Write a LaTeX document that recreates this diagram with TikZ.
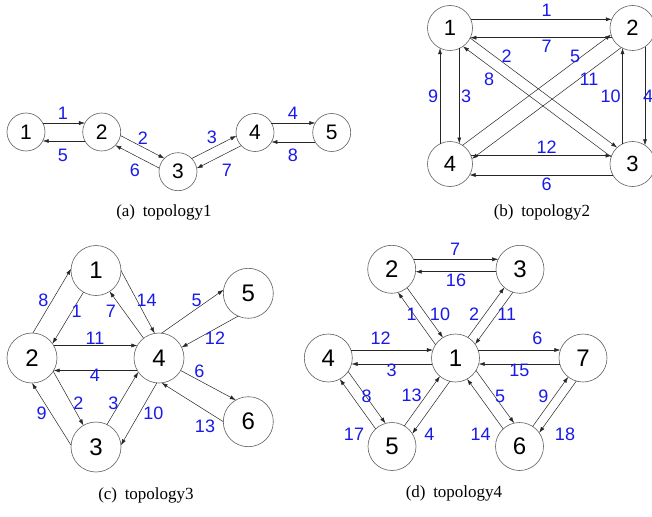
\documentclass[tikz,border=0pt]{standalone}
\usepackage{fontspec}
\setmainfont{Liberation Serif}
\setsansfont{Liberation Sans}
\usetikzlibrary{arrows.meta,calc}
\definecolor{lblue}{RGB}{25,25,235}
\definecolor{ring}{RGB}{95,95,95}
\newcommand\tplink[4]{% from, to, left offset, radius
  \draw[conn, shorten <={sqrt((#4)*(#4)-(#3)*(#3))}, shorten >={sqrt((#4)*(#4)-(#3)*(#3))}]
    ($(#1)!#3pt!90:(#2)$) -- ($(#2)!#3pt!-90:(#1)$);}
\tikzset{
  vtx/.style 2 args={circle, draw=ring, line width=0.6pt, inner sep=0pt, outer sep=0pt,
    minimum size=#1pt, font=\sffamily\fontsize{#2}{#2}\selectfont},
  conn/.style={draw=black!85, line width=0.5pt, -{Latex[length=6pt,width=4pt]}},
  elab/.style={text=lblue, inner sep=0pt, font=\sffamily\fontsize{18}{18}\selectfont},
  captext/.style={inner sep=0pt, font=\fontsize{17}{20}\selectfont}
}
\begin{document}
\begin{tikzpicture}[x=1pt,y=-1pt]
\fill[white] (0,0) rectangle (652,516);
\useasboundingbox (0,0) rectangle (652,516);

% ---------- (a) ----------
\node[vtx={38}{21}] (a1) at (26,132) {1};
\node[vtx={38}{21}] (a2) at (101.7,132) {2};
\node[vtx={38}{21}] (a3) at (178,171.7) {3};
\node[vtx={38}{21}] (a4) at (255,132.5) {4};
\node[vtx={38}{21}] (a5) at (331.7,132.5) {5};
\tplink{a1}{a2}{9}{19}
\tplink{a2}{a1}{9}{19}
\tplink{a2}{a3}{5.5}{19}
\tplink{a3}{a2}{5.5}{19}
\tplink{a3}{a4}{5.5}{19}
\tplink{a4}{a3}{5.5}{19}
\tplink{a4}{a5}{9.5}{19}
\tplink{a5}{a4}{9.5}{19}
\node[elab] (la1) at (63,113) {1};
\node[elab] (la5) at (63,155) {5};
\node[elab] (la2) at (143,138) {2};
\node[elab] (la6) at (135,170) {6};
\node[elab] (la3) at (212,137) {3};
\node[elab] (la7) at (227,170) {7};
\node[elab] (la4) at (293,113) {4};
\node[elab] (la8) at (293,155) {8};
\node[captext] (capa) at (164,212) {(a)\hspace{0.45em}topology1};

% ---------- (b) ----------
\node[vtx={45}{22}] (b1) at (450,28) {1};
\node[vtx={45}{22}] (b2) at (632.5,28) {2};
\node[vtx={45}{22}] (b3) at (632.5,164) {3};
\node[vtx={45}{22}] (b4) at (450,164) {4};
\tplink{b1}{b2}{8.7}{22.5}
\tplink{b2}{b1}{9.7}{22.5}
\tplink{b1}{b4}{9.3}{22.5}
\tplink{b4}{b1}{10}{22.5}
\tplink{b2}{b3}{12.5}{22.5}
\tplink{b3}{b2}{10}{22.5}
\tplink{b4}{b3}{8.3}{22.5}
\tplink{b3}{b4}{11}{22.5}
\tplink{b1}{b3}{4}{22.5}
\tplink{b3}{b1}{7}{22.5}
\tplink{b4}{b2}{7.5}{22.5}
\tplink{b2}{b4}{9}{22.5}
\node[elab] (lb1) at (546.7,10) {1};
\node[elab] (lb7) at (546.7,46.7) {7};
\node[elab] (lb2) at (506.7,56.7) {2};
\node[elab] (lb5) at (575,56.7) {5};
\node[elab] (lb8) at (489,79) {8};
\node[elab] (lb11) at (589,79) {11};
\node[elab] (lb9) at (433,96.7) {9};
\node[elab] (lb3) at (466,96.7) {3};
\node[elab] (lb10) at (610.7,96.7) {10};
\node[elab] (lb4) at (648,96.7) {4};
\node[elab] (lb12) at (546.7,147) {12};
\node[elab] (lb6) at (546.7,184) {6};
\node[captext] (capb) at (542,212) {(b)\hspace{0.45em}topology2};

% ---------- (c) ----------
\node[vtx={50}{24}] (c1) at (96,270.5) {1};
\node[vtx={50}{24}] (c2) at (32,358) {2};
\node[vtx={50}{24}] (c3) at (96,447) {3};
\node[vtx={50}{24}] (c4) at (159,358) {4};
\node[vtx={50}{24}] (c5) at (248.3,293.3) {5};
\node[vtx={50}{24}] (c6) at (248.3,421.7) {6};
\draw[conn] (c2.88) -- (c1.176);
\draw[conn] (c1.240) -- (c2.35);
\draw[conn] (c4.128) -- (c1.303);
\draw[conn] (c1.0) -- (c4.100);
\draw[conn] (c2.30) -- (c4.150);
\draw[conn] (c4.210) -- (c2.330);
\draw[conn] (c4.84) -- (c5.172);
\draw[conn] (c5.246) -- (c4.25);
\draw[conn] (c4.330) -- (c6.120);
\draw[conn] (c6.180) -- (c4.276);
\draw[conn] (c2.328) -- (c3.120);
\draw[conn] (c3.176) -- (c2.270);
\draw[conn] (c3.64) -- (c4.214);
\draw[conn] (c4.265) -- (c3.4);
\node[elab] (lc8) at (43.3,300) {8};
\node[elab] (lc1) at (76.7,311.7) {1};
\node[elab] (lc7) at (111,311.7) {7};
\node[elab] (lc14) at (146.7,300) {14};
\node[elab] (lc5) at (196.7,300) {5};
\node[elab] (lc12) at (215,338.3) {12};
\node[elab] (lc11) at (95,338.3) {11};
\node[elab] (lc4) at (95,375) {4};
\node[elab] (lc6) at (199.3,371.7) {6};
\node[elab] (lc2) at (78.3,403.3) {2};
\node[elab] (lc3) at (113.3,403.3) {3};
\node[elab] (lc9) at (41.7,413.3) {9};
\node[elab] (lc10) at (153.3,413.3) {10};
\node[elab] (lc13) at (205,426.7) {13};
\node[captext] (capc) at (146,495) {(c)\hspace{0.45em}topology3};

% ---------- (d) ----------
\node[vtx={48}{24}] (d2) at (391.7,269.3) {2};
\node[vtx={48}{24}] (d3) at (520,269.3) {3};
\node[vtx={48}{24}] (d4) at (328.3,358) {4};
\node[vtx={48}{24}] (d1) at (455.5,358) {1};
\node[vtx={48}{24}] (d7) at (583,358) {7};
\node[vtx={48}{24}] (d5) at (392,446.5) {5};
\node[vtx={48}{24}] (d6) at (519.5,446.5) {6};
\tplink{d2}{d3}{10}{24}
\tplink{d3}{d2}{2.4}{24}
\tplink{d4}{d1}{8}{24}
\tplink{d1}{d4}{6}{24}
\tplink{d1}{d7}{8}{24}
\tplink{d7}{d1}{6}{24}
\tplink{d1}{d2}{8.4}{24}
\tplink{d2}{d1}{1.7}{24}
\tplink{d1}{d3}{2}{24}
\tplink{d3}{d1}{7.8}{24}
\tplink{d4}{d5}{8.2}{24}
\tplink{d5}{d4}{3}{24}
\tplink{d5}{d1}{2}{24}
\tplink{d1}{d5}{9}{24}
\tplink{d1}{d6}{9.3}{24}
\tplink{d6}{d1}{2.9}{24}
\tplink{d6}{d7}{1}{24}
\tplink{d7}{d6}{8}{24}
\node[elab] (ld7) at (455,249.3) {7};
\node[elab] (ld16) at (456,280.7) {16};
\node[elab] (ld1) at (411.7,314) {1};
\node[elab] (ld10) at (440,314) {10};
\node[elab] (ld2) at (474,314) {2};
\node[elab] (ld11) at (506.7,314) {11};
\node[elab] (ld12) at (380.7,338.3) {12};
\node[elab] (ld3) at (391.7,370) {3};
\node[elab] (ld6) at (537.3,338.3) {6};
\node[elab] (ld15) at (519.3,370) {15};
\node[elab] (ld8) at (366.7,396) {8};
\node[elab] (ld13) at (411.7,395) {13};
\node[elab] (ld5) at (500,396) {5};
\node[elab] (ld9) at (543.3,396) {9};
\node[elab] (ld17) at (354,434) {17};
\node[elab] (ld4) at (429.3,434) {4};
\node[elab] (ld14) at (480.7,434) {14};
\node[elab] (ld18) at (565,434) {18};
\node[captext] (capd) at (454,493) {(d)\hspace{0.45em}topology4};
\end{tikzpicture}
\end{document}
